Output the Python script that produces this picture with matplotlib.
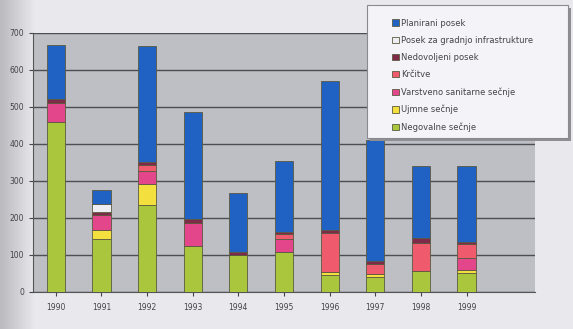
import matplotlib
matplotlib.use("Agg")
import matplotlib.pyplot as plt
from matplotlib.patches import Rectangle
import numpy as np

years = ["1990", "1991", "1992", "1993", "1994", "1995", "1996", "1997", "1998", "1999"]
labels = ["Planirani posek", "Posek za gradnjo infrastrukture", "Nedovoljeni posek",
          "Krčitve", "Varstveno sanitarne sečnje", "Ujmne sečnje", "Negovalne sečnje"]

# series listed bottom -> top
negovalne = [460, 143, 235, 125, 100, 108, 45, 40, 55, 50]
ujmne = [0, 24, 57, 0, 0, 0, 8, 8, 0, 8]
sanitarne = [50, 40, 35, 62, 0, 34, 0, 0, 0, 32]
krcitve = [0, 0, 15, 0, 0, 14, 105, 28, 78, 38]
nedovoljeni = [12, 9, 8, 10, 7, 6, 10, 8, 11, 6]
infrastruktura = [0, 20, 0, 0, 0, 0, 0, 0, 0, 0]
planirani = [145, 38, 316, 290, 160, 192, 403, 326, 195, 205]

series = [negovalne, ujmne, sanitarne, krcitve, nedovoljeni, infrastruktura, planirani]
series_labels = labels[::-1]
colors = ["#a9c63c", "#f3e03e", "#e4468c", "#ef5a6c", "#7e2a48", "#eeeef2", "#1f62c4"]

W, H = 573, 329
fig = plt.figure(figsize=(W / 100, H / 100), dpi=100)
fig.patch.set_facecolor("#e9e9ee")

# soft darker band on the left edge (photo look)
bg = fig.add_axes([0, 0, 1, 1], zorder=-10)
grad = np.linspace(0, 1, 200)
img = np.ones((10, 200, 3))
shade = np.clip(1 - grad / 0.06, 0, 1) * 0.18
for c, base in enumerate([0.914, 0.914, 0.933]):
    img[:, :, c] = base - shade
bg.imshow(img, aspect="auto", extent=[0, 1, 0, 1])
bg.axis("off")

ax = fig.add_axes([33 / W, 1 - 291.7 / H, (535 - 33) / W, (291.7 - 33) / H])
ax.set_facecolor("#bdbfc4")

x = np.arange(len(years))
bottom = np.zeros(len(years))
handles = []
for vals, col, lab in zip(series, colors, series_labels):
    h = ax.bar(x, vals, width=0.4, bottom=bottom, color=col, edgecolor="#5a5a40",
               linewidth=0.6, label=lab, zorder=3)
    handles.append(h)
    bottom += np.array(vals)

ax.set_xlim(-0.5, len(years) + 0.5)
ax.set_ylim(0, 700)
ax.set_yticks(range(0, 701, 100))
ax.set_xticks(x)
ax.set_xticklabels(years)
ax.yaxis.grid(True, color="#4e4e52", linewidth=1.0, zorder=1)
ax.set_axisbelow(True)
ax.tick_params(axis="both", labelsize=5.5, colors="#444448", length=3, width=0.8)
ax.tick_params(axis="x", pad=5)
for s in ["top", "right"]:
    ax.spines[s].set_visible(False)
ax.spines["left"].set_color("#555555")
ax.spines["bottom"].set_color("#555555")

# legend box (drawn separately to match the wide frame)
bx0, by0, bx1, by1 = 367, 5, 568, 138
fig.patches.append(Rectangle((bx0 / W + 3 / W, 1 - (by1 + 3) / H), (bx1 - bx0) / W, (by1 - by0) / H,
                             transform=fig.transFigure, facecolor="#8e8e94", edgecolor="none",
                             zorder=8))
fig.patches.append(Rectangle((bx0 / W, 1 - by1 / H), (bx1 - bx0) / W, (by1 - by0) / H,
                             transform=fig.transFigure, facecolor="#f4f4f8", edgecolor="#8a8a8e",
                             linewidth=0.8, zorder=9))

leg = fig.legend(handles[::-1], labels, loc="upper left",
                 bbox_to_anchor=(392 / W, 1 - 18.5 / H), fontsize=6,
                 frameon=False, handlelength=0.8,
                 handleheight=0.8, handletextpad=0.3, labelspacing=0.98,
                 borderpad=0, borderaxespad=0)
leg.set_zorder(10)
for t in leg.get_texts():
    t.set_color("#444448")

fig.savefig("out.png", dpi=100, facecolor=fig.get_facecolor())
